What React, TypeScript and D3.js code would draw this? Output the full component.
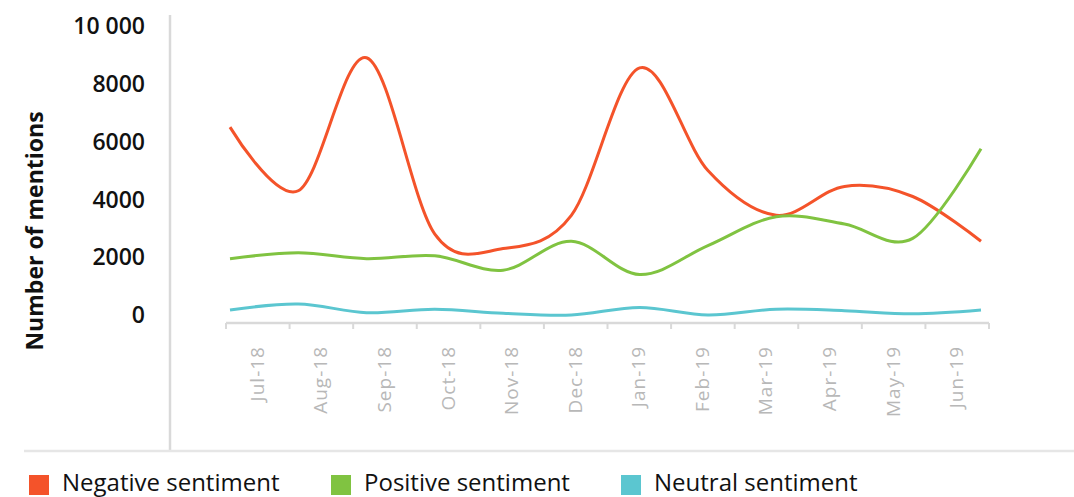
import React from "react";
import * as d3 from "d3";

const months = ["Jul-18","Aug-18","Sep-18","Oct-18","Nov-18","Dec-18","Jan-19","Feb-19","Mar-19","Apr-19","May-19","Jun-19"];
const negative = [6500, 4300, 8900, 2800, 2300, 3450, 8550, 5000, 3450, 4450, 4100, 2550];
const positive = [1950, 2150, 1950, 2050, 1550, 2550, 1400, 2400, 3400, 3150, 2650, 5750];
const neutral = [175, 380, 80, 200, 60, 0, 260, 0, 200, 150, 40, 175];
const yTicks = [0, 2000, 4000, 6000, 8000, 10000];
const yTickLabels = ["0", "2000", "4000", "6000", "8000", "10 000"];

const series = [
  { name: "Negative sentiment", values: negative, color: "#f4532a" },
  { name: "Positive sentiment", values: positive, color: "#80c341" },
  { name: "Neutral sentiment", values: neutral, color: "#5bc6d0" },
];

export default function App() {
  const W = 1074, H = 497;
  const y = d3.scaleLinear().domain([0, 10000]).range([315, 26]);
  const xBand = d3.scaleBand().domain(months).range([226, 989]);
  const xPt = d3.scalePoint().domain(months).range([230, 981]);
  const line = d3.line<number>()
    .x((_, i) => xPt(months[i]) as number)
    .y((d) => y(d))
    .curve(d3.curveCardinal.tension(0));
  const axisY = 323;
  const tickXs = months.map((m) => xBand(m) as number).concat([989]);
  const legendX = [29, 331, 621];
  return (
    <svg width={W} height={H} style={{ position: "absolute", left: 0, top: 0, background: "#fff" }}
      fontFamily="'Open Sans', sans-serif">
      <line x1={170} x2={170} y1={15} y2={450} stroke="#d9d9d9" strokeWidth={2.5} />
      <line x1={24} x2={1074} y1={451} y2={451} stroke="#e6e6e6" strokeWidth={2.5} />
      <line x1={226} x2={989} y1={axisY} y2={axisY} stroke="#d9d9d9" strokeWidth={2.5} />
      {tickXs.map((tx, i) => (
        <line key={i} x1={tx} x2={tx} y1={axisY} y2={axisY + 6} stroke="#d9d9d9" strokeWidth={2} />
      ))}
      {months.map((m) => {
        const cx = (xBand(m) as number) + xBand.bandwidth() / 2;
        return (
          <text key={m} transform={`translate(${cx + 6},346) rotate(-90)`} textAnchor="end"
            fontSize={19} letterSpacing={1} fill="#b8b8b8">{m}</text>
        );
      })}
      {yTicks.map((t, i) => (
        <text key={t} x={145} y={y(t)} dy="0.36em" textAnchor="end" fontSize={23} fontWeight={600} fill="#111">
          {yTickLabels[i]}
        </text>
      ))}
      <text transform="translate(43,231) rotate(-90)" textAnchor="middle" fontSize={23} fontWeight={700} fill="#111">
        Number of mentions
      </text>
      {series.map((s) => (
        <path key={s.name} d={line(s.values) || ""} fill="none" stroke={s.color} strokeWidth={3} />
      ))}
      {series.map((s, i) => (
        <g key={s.name}>
          <rect x={legendX[i]} y={475} width={20} height={20} fill={s.color} />
          <text x={legendX[i] + 33} y={491} fontSize={24} fill="#111">{s.name}</text>
        </g>
      ))}
    </svg>
  );
}
